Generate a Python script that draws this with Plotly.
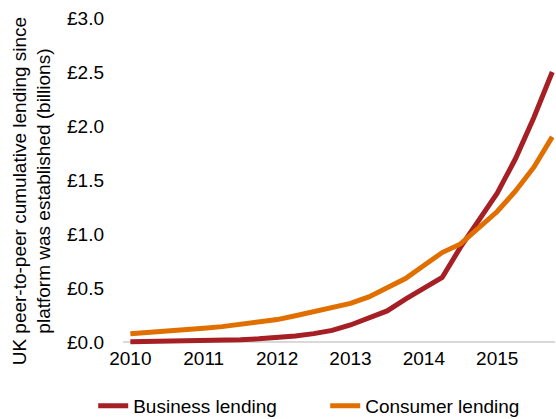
import plotly.graph_objects as go

quarters = [
    "2010 Q1", "2010 Q2", "2010 Q3", "2010 Q4",
    "2011 Q1", "2011 Q2", "2011 Q3", "2011 Q4",
    "2012 Q1", "2012 Q2", "2012 Q3", "2012 Q4",
    "2013 Q1", "2013 Q2", "2013 Q3", "2013 Q4",
    "2014 Q1", "2014 Q2", "2014 Q3", "2014 Q4",
    "2015 Q1", "2015 Q2", "2015 Q3", "2015 Q4",
]
business_lending = [0.005, 0.007, 0.009, 0.011, 0.014, 0.018, 0.024, 0.032,
                    0.042, 0.058, 0.08, 0.11, 0.16, 0.22, 0.29, 0.40,
                    0.50, 0.60, 0.88, 1.13, 1.38, 1.70, 2.08, 2.50]
consumer_lending = [0.08, 0.09, 0.10, 0.115, 0.13, 0.145, 0.165, 0.185,
                    0.21, 0.245, 0.28, 0.32, 0.36, 0.42, 0.50, 0.59,
                    0.71, 0.83, 0.91, 1.06, 1.21, 1.40, 1.62, 1.90]
x_tick_vals = ["2010 Q1", "2011 Q1", "2012 Q1", "2013 Q1", "2014 Q1", "2015 Q1"]
x_tick_text = ["2010", "2011", "2012", "2013", "2014", "2015"]
y_tick_vals = [0, 0.5, 1.0, 1.5, 2.0, 2.5, 3.0]
y_tick_text = ["£0.0", "£0.5", "£1.0", "£1.5", "£2.0", "£2.5", "£3.0"]

FONT = "Liberation Sans, Arial, sans-serif"
RED = "#A51F24"
ORANGE = "#E06F00"
FS = 19

fig = go.Figure()
fig.add_trace(go.Scatter(x=quarters, y=business_lending, mode="lines",
                         name="Business lending",
                         line=dict(color=RED, width=5)))
fig.add_trace(go.Scatter(x=quarters, y=consumer_lending, mode="lines",
                         name="Consumer lending",
                         line=dict(color=ORANGE, width=5)))

fig.update_layout(
    width=556, height=419,
    margin=dict(l=123, r=1.3, t=18, b=74.3, pad=0, autoexpand=False),
    paper_bgcolor="white", plot_bgcolor="white",
    font=dict(family=FONT, size=FS, color="#000000"),
    showlegend=True,
    legend=dict(orientation="h", x=-0.069, xanchor="left", y=-0.128,
                yanchor="top", font=dict(size=FS, color="#000000"),
                entrywidth=187, entrywidthmode="pixels",
                bgcolor="rgba(0,0,0,0)"),
    xaxis=dict(type="category", range=[-0.4, 23.15],
               tickmode="array", tickvals=x_tick_vals, ticktext=x_tick_text,
               showgrid=False, zeroline=False, showline=False, ticks="",
               ticklabelstandoff=0, automargin=False,
               tickfont=dict(size=FS, color="#000000")),
    yaxis=dict(range=[-0.025, 3.0], tickmode="array",
               tickvals=y_tick_vals, ticktext=y_tick_text,
               showgrid=False, zeroline=True, zerolinecolor="#D9D9D9",
               zerolinewidth=1.5, showline=False, ticks="",
               ticklabelstandoff=18, automargin=False,
               tickfont=dict(size=FS, color="#000000")),
    annotations=[dict(
        text="UK peer-to-peer cumulative lending since<br>platform was established (billions)",
        xref="paper", yref="paper", x=-0.2106, y=0.47,
        xanchor="center", yanchor="middle", textangle=-90,
        showarrow=False, font=dict(size=FS, color="#000000"))],
)

fig.write_html("out.html")
